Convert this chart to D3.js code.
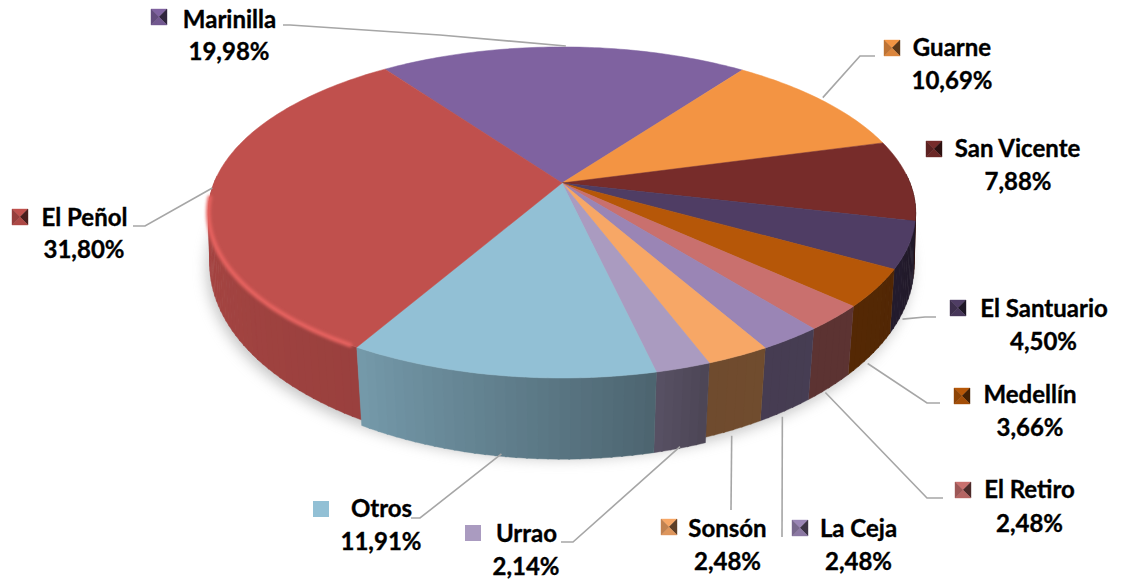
<!DOCTYPE html>
<html>
<head>
<meta charset="utf-8">
<script src="https://cdn.jsdelivr.net/npm/d3@7"></script>
<style>
  html, body { margin: 0; background: #fff; }
  text { font-family: Lato, sans-serif; font-weight: 700; fill: #000; stroke: #000; stroke-width: 0.35px; }
</style>
</head>
<body>
<div id="chart"></div>
<script>
const categories = ["Marinilla", "Guarne", "San Vicente", "El Santuario", "Medellín", "El Retiro", "La Ceja", "Sonsón", "Urrao", "Otros", "El Peñol"];
const shares = [19.98, 10.69, 7.88, 4.50, 3.66, 2.48, 2.48, 2.48, 2.14, 11.91, 31.80];
const shareLabels = ["19,98%", "10,69%", "7,88%", "4,50%", "3,66%", "2,48%", "2,48%", "2,48%", "2,14%", "11,91%", "31,80%"];

const width = 1123, height = 583;
const colors = ["#7f62a0", "#f39443", "#772c2a", "#4f3d64", "#b65708", "#c9706e", "#9a85b5", "#f7a766", "#aa9bc0", "#92c0d5", "#c0504d"];

// label boxes, one per category, in the same order
const labelLayout = [
    { key: [151, 9], name: [229.5, 28], pct: [229, 60], off: [2, -1], elbow: [[440, 35], [290, 25], [283, 25]] },
    { key: [884, 40], name: [952, 56], pct: [952, 89], off: [0, -3], elbow: [[860, 56], [875, 56]] },
    { key: [926, 141], name: [1017.5, 157], pct: [1018, 190], off: null, elbow: [] },
    { key: [950, 300], name: [1044, 317], pct: [1043.5, 350], off: [-3, 13], elbow: [[925, 317], [936, 317]] },
    { key: [954, 388], name: [1030, 403], pct: [1030, 436], off: [-4, 9], elbow: [[927, 403], [940, 403]] },
    { key: [955, 482], name: [1029.5, 498], pct: [1029.5, 532], off: [-4, 5], elbow: [[927, 498], [943, 498]] },
    { key: [792, 520], name: [858.5, 537], pct: [858.5, 570], off: [-3, 6], elbow: [[782, 537]] },
    { key: [661, 519], name: [727.5, 537], pct: [727.5, 570], off: [-2, 6], elbow: [[731, 510]] },
    { key: [465, 525], name: [526.5, 542], pct: [526, 575], off: [0, 4], elbow: [[573, 542], [561, 542]], flat: true },
    { key: [313, 501], name: [381.5, 517], pct: [381, 550], off: [0, 3], elbow: [[420, 518], [411, 518]], flat: true },
    { key: [12, 209], name: [84.5, 226], pct: [84, 258], off: [1, -3], elbow: [[145, 226], [133, 226]] }
];

// angles run clockwise from the top, in degrees
const startDeg = 324.4;
const pie = d3.pie().sort(null).value(d => d)
    .startAngle(startDeg * Math.PI / 180)
    .endAngle((startDeg + 360) * Math.PI / 180);
const arcs = pie(shares);

// projected circles for the top face and the bottom of the side wall
const topRim = { cx: 562, cy: 183, a: 348, b: 160.3, p: 0.178 };
const lowRim = { cx: 562, cy: 235, a: 348, b: 185, p: 0.154 };

function rimPoint(rim, ang, dy) {
    const u = Math.sin(ang), v = -Math.cos(ang);
    const w = 1 / (1 - rim.p * v);
    return [rim.cx + rim.a * u * w, rim.cy + rim.b * v * w + (dy || 0)];
}

function anglesBetween(a0, a1, stepDeg) {
    const n = Math.max(2, Math.ceil((a1 - a0) / (stepDeg * Math.PI / 180)));
    return d3.range(n + 1).map(i => a0 + (a1 - a0) * i / n);
}

// how dark the wall gets, by clockwise angle
const wallShade = d3.scaleLinear()
    .domain([90, 130, 160, 168, 210, 270])
    .range([0.42, 0.46, 0.45, 0.53, 0.8, 0.88])
    .clamp(true);

function wallColor(s) {
    const deg = (s.mid * 180 / Math.PI) % 360;
    return d3.interpolateRgb("#000", colors[s.i])(wallShade(deg));
}

const line = d3.line();

const svg = d3.select("#chart").append("svg")
    .attr("width", width)
    .attr("height", height)
    .style("display", "block");

const defs = svg.append("defs");
defs.append("filter").attr("id", "shadowBlur")
    .attr("x", "-10%").attr("y", "-10%").attr("width", "120%").attr("height", "120%")
    .append("feGaussianBlur").attr("stdDeviation", 7);
defs.append("filter").attr("id", "edgeBlur")
    .attr("filterUnits", "userSpaceOnUse")
    .attr("x", 0).attr("y", 0).attr("width", width).attr("height", height)
    .append("feGaussianBlur").attr("stdDeviation", 1.6);

// soft shadow under the pie
svg.append("path")
    .attr("d", line(anglesBetween(0, 2 * Math.PI, 3).map(a => rimPoint(lowRim, a))) + "Z")
    .attr("fill", "#8c8c8c")
    .attr("opacity", 0.5)
    .attr("transform", "translate(-3,5)")
    .attr("filter", "url(#shadowBlur)");

// wall strips, each one overlaps the next a hair so no seams show
// Otros and Urrao stand a little proud, so they go last
const walls = arcs.map((d, i) => ({
    i,
    a0: d.startAngle,
    a1: d.endAngle,
    drop: (i === 8 || i === 9) ? 5.5 : 0
}));
walls.sort((s, t) => s.drop - t.drop);

const strips = [];
walls.forEach(w => {
    d3.pairs(anglesBetween(w.a0, w.a1, 1.5)).forEach(([a0, a1]) => {
        const mid = (a0 + a1) / 2;
        if (Math.cos(mid) > 0.05) return;
        strips.push({ i: w.i, drop: w.drop, a0, a1: Math.min(a1 + 0.004, w.a1), mid });
    });
});

svg.append("g").selectAll("path")
    .data(strips)
    .enter()
    .append("path")
    .attr("d", s => line([
        rimPoint(topRim, s.a0), rimPoint(topRim, s.a1),
        rimPoint(lowRim, s.a1, s.drop), rimPoint(lowRim, s.a0, s.drop)
    ]) + "Z")
    .attr("fill", wallColor)
    .attr("stroke", wallColor)
    .attr("stroke-width", 0.4);

// top face
svg.append("g").selectAll("path")
    .data(arcs)
    .enter()
    .append("path")
    .attr("d", d => line([[topRim.cx, topRim.cy]].concat(anglesBetween(d.startAngle, d.endAngle, 1).map(a => rimPoint(topRim, a)))) + "Z")
    .attr("fill", (d, i) => colors[i])
    .attr("stroke", (d, i) => colors[i])
    .attr("stroke-width", 0.5);

// lit edge along the big slice, only on the part facing the viewer
const penol = arcs[10];
svg.append("path")
    .attr("d", line(anglesBetween(penol.startAngle + 0.02, penol.startAngle + 55 * Math.PI / 180, 1.5).map(a => rimPoint(topRim, a))))
    .attr("fill", "none")
    .attr("stroke", "#e6625f")
    .attr("stroke-width", 4.5)
    .attr("stroke-linecap", "round")
    .attr("filter", "url(#edgeBlur)");

// leader lines
svg.append("g").selectAll("path")
    .data(labelLayout.map((l, i) => ({ l, i })).filter(d => d.l.off))
    .enter()
    .append("path")
    .attr("d", d => {
        const mid = (arcs[d.i].startAngle + arcs[d.i].endAngle) / 2;
        const back = Math.cos(mid) > -0.2;
        const p = rimPoint(back ? topRim : lowRim, mid);
        return line([[p[0] + d.l.off[0], p[1] + d.l.off[1]]].concat(d.l.elbow));
    })
    .attr("fill", "none")
    .attr("stroke", "#a6a6a6")
    .attr("stroke-width", 1.6);

// legend keys, the bevelled ones are four triangles
const keySize = 16;
const keys = svg.append("g").selectAll("g")
    .data(labelLayout.map((l, i) => ({ l, i })))
    .enter()
    .append("g")
    .attr("transform", d => `translate(${d.l.key[0]},${d.l.key[1]})`);

keys.filter(d => d.l.flat).append("rect")
    .attr("width", keySize)
    .attr("height", keySize)
    .attr("fill", d => colors[d.i]);

const facets = [
    { pts: [[0, 0], [keySize, 0], [keySize / 2, keySize / 2]], shade: 1 },
    { pts: [[keySize, 0], [keySize, keySize], [keySize / 2, keySize / 2]], shade: 0.38 },
    { pts: [[0, keySize], [keySize, keySize], [keySize / 2, keySize / 2]], shade: 0.9 },
    { pts: [[0, 0], [0, keySize], [keySize / 2, keySize / 2]], shade: 0.78 }
];
function facetColor(d) {
    return d3.interpolateRgb("#000", colors[d.i])(d.f.shade);
}
keys.filter(d => !d.l.flat).selectAll("path")
    .data(d => facets.map(f => ({ f, i: d.i })))
    .enter()
    .append("path")
    .attr("d", d => line(d.f.pts) + "Z")
    .attr("fill", facetColor)
    .attr("stroke", facetColor)
    .attr("stroke-width", 0.4);

// label text
const labels = svg.append("g").selectAll("g")
    .data(labelLayout.map((l, i) => ({ l, i })))
    .enter()
    .append("g")
    .attr("text-anchor", "middle")
    .attr("font-size", 24);

labels.append("text")
    .attr("x", d => d.l.name[0])
    .attr("y", d => d.l.name[1])
    .text(d => categories[d.i]);

labels.append("text")
    .attr("x", d => d.l.pct[0])
    .attr("y", d => d.l.pct[1])
    .text(d => shareLabels[d.i]);
</script>
</body>
</html>
